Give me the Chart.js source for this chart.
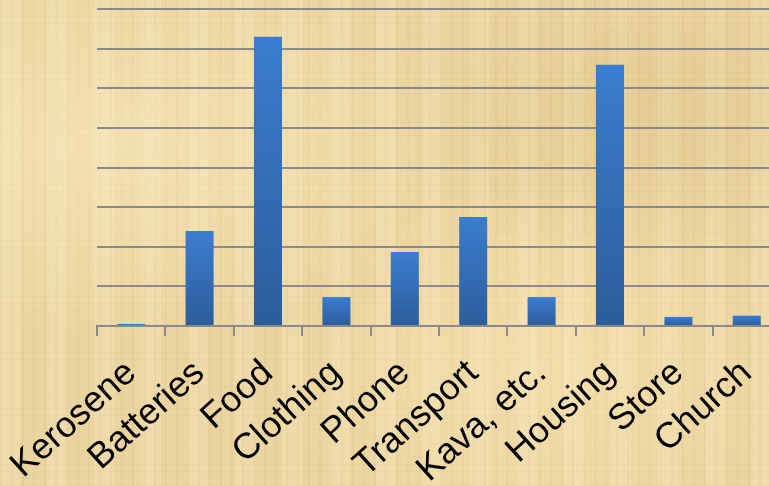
<!DOCTYPE html>
<html>
<head>
<meta charset="utf-8">
<script src="https://cdn.jsdelivr.net/npm/chart.js@4"></script>
<style>
  html, body { margin: 0; padding: 0; overflow: hidden; width: 769px; height: 486px; }
  body {
    background-color: #ecd5a0;
    background-image:
      radial-gradient(ellipse at 15% 30%, rgba(255,240,200,0.45), rgba(255,240,200,0) 40%),
      radial-gradient(ellipse at 70% 75%, rgba(255,235,190,0.4), rgba(255,235,190,0) 35%),
      radial-gradient(ellipse at 85% 20%, rgba(210,180,120,0.25), rgba(210,180,120,0) 30%),
      repeating-linear-gradient(90deg, rgba(190,160,100,0.10) 0px, rgba(190,160,100,0.10) 2px, rgba(0,0,0,0) 2px, rgba(0,0,0,0) 11px),
      repeating-linear-gradient(0deg, rgba(200,170,110,0.10) 0px, rgba(200,170,110,0.10) 1px, rgba(0,0,0,0) 1px, rgba(0,0,0,0) 7px),
      repeating-linear-gradient(90deg, rgba(255,245,215,0.18) 0px, rgba(255,245,215,0.18) 20px, rgba(0,0,0,0) 20px, rgba(0,0,0,0) 47px);
  }
  #wrap { position: absolute; left: 0; top: 0; width: 800px; height: 486px; }
</style>
</head>
<body>
<div id="wrap"><canvas id="chart" width="800" height="486"></canvas></div>
<script>
// Spending categories and bar heights (in gridline units)
const categories = ['Kerosene', 'Batteries', 'Food', 'Clothing', 'Phone', 'Transport', 'Kava, etc.', 'Housing', 'Store', 'Church'];
const values = [0.05, 2.4, 7.3, 0.73, 1.87, 2.75, 0.73, 6.59, 0.23, 0.26];
const yMax = 8;
const yStep = 1;

function barGradient(ctx) {
    const chart = ctx.chart;
    const yScale = chart.scales.y;
    if (!yScale || ctx.type !== 'data') return '#3572bb';
    const top = yScale.getPixelForValue(ctx.raw);
    const base = yScale.getPixelForValue(0);
    if (!isFinite(top) || base - top < 1) return '#3572bb';
    const g = chart.ctx.createLinearGradient(0, top, 0, base);
    g.addColorStop(0, '#3b7dcf');
    g.addColorStop(1, '#2c5d9b');
    return g;
}

new Chart(document.getElementById('chart'), {
    type: 'bar',
    data: {
        labels: categories,
        datasets: [{
            data: values,
            backgroundColor: barGradient,
            borderWidth: 0,
            barPercentage: 0.41,
            categoryPercentage: 1
        }]
    },
    options: {
        responsive: false,
        animation: false,
        layout: { padding: { top: 9, right: 19, left: 0, bottom: 0 } },
        plugins: { legend: { display: false }, tooltip: { enabled: false } },
        scales: {
            x: {
                grid: {
                    offset: true,
                    drawOnChartArea: false,
                    drawTicks: true,
                    tickLength: 10,
                    color: '#8a8a8a',
                    lineWidth: 2
                },
                border: { display: true, color: '#8a8a8a', width: 2 },
                ticks: {
                    color: '#000',
                    font: { family: "'Liberation Sans', Arial, sans-serif", size: 36 },
                    minRotation: 42,
                    maxRotation: 42,
                    autoSkip: false,
                    padding: 16
                },
                afterFit: (scale) => {
                    scale.height = 160;
                    scale.paddingLeft = 0;
                    scale.paddingRight = 0;
                }
            },
            y: {
                min: 0,
                max: yMax,
                ticks: { display: false, stepSize: yStep },
                grid: { color: '#8a8a8a', lineWidth: 2, drawTicks: false },
                border: { display: false },
                afterFit: (scale) => { scale.width = 97; }
            }
        }
    }
});
</script>
</body>
</html>
